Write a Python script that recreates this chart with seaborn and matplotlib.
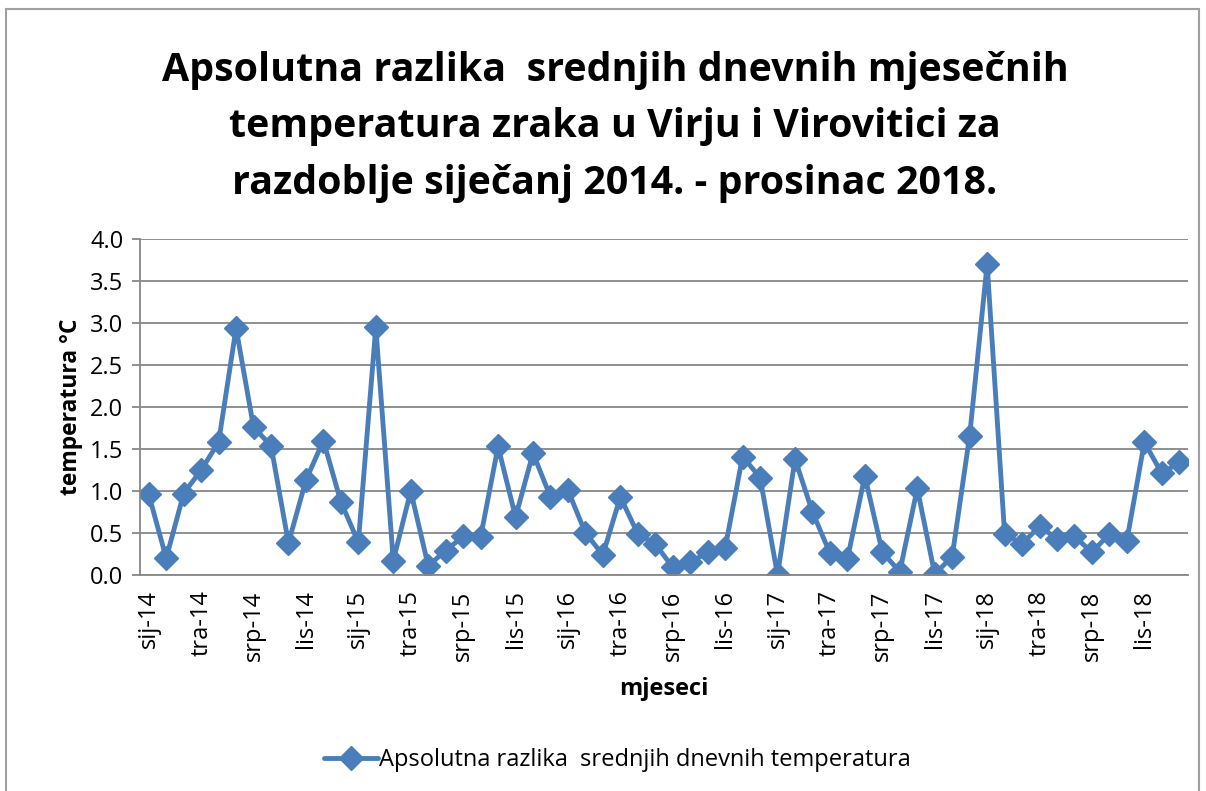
import numpy as np
import pandas as pd
import matplotlib
matplotlib.use('Agg')
import matplotlib.pyplot as plt
import seaborn as sns
from matplotlib.patches import Rectangle

# month names (Croatian) and years
months = ['sij', 'velj', 'ožu', 'tra', 'svi', 'lip', 'srp', 'kol', 'ruj', 'lis', 'stu', 'pro']
years = ['14', '15', '16', '17', '18']
labels = [f'{m}-{y}' for y in years for m in months]

# absolute difference of mean daily monthly temperatures (°C)
diff = [0.96, 0.20, 0.97, 1.25, 1.58, 2.94, 1.76, 1.54, 0.38, 1.13, 1.60, 0.87,
        0.39, 2.95, 0.17, 1.00, 0.11, 0.29, 0.46, 0.45, 1.53, 0.69, 1.45, 0.93,
        1.01, 0.50, 0.24, 0.93, 0.49, 0.37, 0.09, 0.15, 0.27, 0.32, 1.41, 1.16,
        0.00, 1.38, 0.75, 0.26, 0.19, 1.18, 0.27, 0.04, 1.03, 0.01, 0.22, 1.66,
        3.70, 0.49, 0.37, 0.58, 0.43, 0.46, 0.27, 0.49, 0.41, 1.58, 1.21, 1.34]

series_name = 'Apsolutna razlika  srednjih dnevnih temperatura'
title = ('Apsolutna razlika  srednjih dnevnih mjesečnih\n'
         'temperatura zraka u Virju i Virovitici za\n'
         'razdoblje siječanj 2014. - prosinac 2018.')

df = pd.DataFrame({'idx': np.arange(len(diff)), 'diff': diff, 'label': labels})

sns.set_style('white')
plt.rcParams['font.family'] = ['Open Sans', 'DejaVu Sans']
plt.rcParams['text.color'] = 'black'
plt.rcParams['axes.labelcolor'] = 'black'
plt.rcParams['xtick.color'] = 'black'
plt.rcParams['ytick.color'] = 'black'

blue = '#4a7ebb'
grey = '#878787'

fig = plt.figure(figsize=(12.06, 7.91), dpi=100)
ax = fig.add_axes([140 / 1206, 1 - 575 / 791, (1188 - 140) / 1206, (575 - 239) / 791])

sns.lineplot(data=df, x='idx', y='diff', ax=ax, color=blue, lw=3.5,
             marker='D', markersize=12.5, markeredgewidth=1, markeredgecolor=blue,
             label=series_name)

ax.set_xlim(-0.5, len(diff) - 0.5)
ax.set_ylim(0, 4)
yt = np.arange(0, 4.01, 0.5)
ax.set_yticks(yt)
ax.set_yticklabels([f'{v:.1f}' for v in yt], fontsize=17)
ax.yaxis.grid(True, color=grey, lw=1.3)
ax.set_axisbelow(True)

ax.set_xticks(df['idx'][::3])
ax.set_xticklabels(df['label'][::3], rotation=90, fontsize=17)
ax.set_xticks(np.arange(-0.5, len(diff), 3), minor=True)
ax.tick_params(axis='x', which='major', length=0, pad=11)
ax.tick_params(axis='x', which='minor', length=6, color=grey, width=1.3)
ax.tick_params(axis='y', length=6, color=grey, width=1.3, left=True, pad=6)

for s in ['top', 'right']:
    ax.spines[s].set_visible(False)
for s in ['left', 'bottom']:
    ax.spines[s].set_color(grey)
    ax.spines[s].set_linewidth(1.3)

ax.set_xlabel('mjeseci', fontsize=17, fontweight='bold', labelpad=12)
ax.set_ylabel('temperatura °C', fontsize=16.5, fontweight='bold', labelpad=5)

fig.text(0.51, 1 - 127 / 791, title, ha='center', va='center', fontsize=28.4,
         fontweight='bold', linespacing=1.58)

ax.legend(loc='center', bbox_to_anchor=(0.512, 1 - 760 / 791), bbox_transform=fig.transFigure,
          frameon=False, fontsize=17, handlelength=2.3, handletextpad=0.05)

fig.patches.append(Rectangle((6 / 1206, -0.02), 1193 / 1206, 1.02 - 9 / 791,
                             transform=fig.transFigure, fill=False,
                             edgecolor='#a0a0a0', lw=1.5))

fig.savefig('out.png', dpi=100)
